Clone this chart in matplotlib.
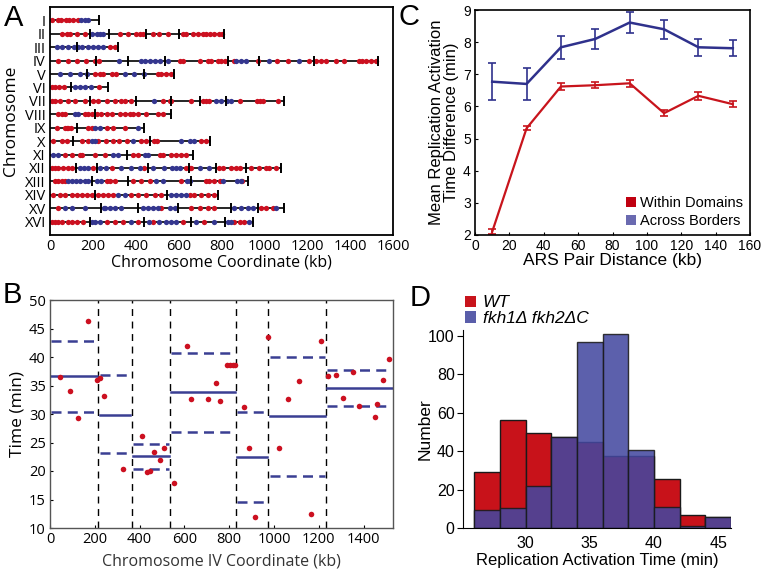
import matplotlib
matplotlib.use("Agg")
import matplotlib.pyplot as plt
from matplotlib.patches import Patch

# ---- panel A: origins along each chromosome (kb) ----
chr_names = ['I', 'II', 'III', 'IV', 'V', 'VI', 'VII', 'VIII', 'IX', 'X',
             'XI', 'XII', 'XIII', 'XIV', 'XV', 'XVI']
chr_len = [230, 813, 317, 1532, 577, 270, 1091, 563, 440, 746, 667, 1078, 924, 784, 1091, 948]

a_red = [
    [8, 36, 51, 73, 88, 109, 129],
    [54, 78, 93, 127, 163, 326, 364, 403, 419, 434, 481, 509, 550, 620, 633, 667, 690, 713, 729, 747, 767, 787, 803],
    [279, 302],
    [39, 85, 124, 167, 209, 229, 605, 620, 698, 736, 752, 783, 798, 814, 860, 969, 1057, 1109, 1209, 1240,
     1264, 1287, 1333, 1372, 1442, 1457, 1473, 1496, 1519],
    [209, 233, 248, 287, 310, 504, 519, 543, 566],
    [8, 25, 42, 67, 230],
    [8, 23, 47, 85, 116, 163, 202, 225, 264, 302, 333, 349, 380, 527, 558, 566, 659, 713, 729, 744, 884,
     965, 980, 995, 1062],
    [39, 54, 70, 163, 178, 194, 217, 240, 264, 287, 326, 349, 372, 388, 411, 450, 504, 527],
    [31, 70, 78, 85, 98, 178, 194, 264, 295, 349],
    [16, 54, 78, 147, 178, 225, 260, 295, 322, 357, 426, 450, 484, 499, 705, 729],
    [70, 101, 140, 147, 209, 256, 388, 411, 512, 527, 566, 589, 612, 636],
    [8, 23, 39, 62, 85, 101, 200, 290, 440, 636, 651, 659, 787, 806, 845, 868, 884, 937, 977, 1008, 1023, 1054],
    [23, 39, 54, 70, 264, 279, 302, 388, 426, 465, 612, 729, 744, 767, 791, 896],
    [16, 47, 70, 101, 124, 147, 171, 194, 225, 248, 271, 295, 380, 411, 450, 490, 520, 651, 674, 705, 736, 767],
    [39, 519, 659, 698, 736, 767, 984, 1008, 1039],
    [8, 23, 39, 54, 85, 101, 124, 156, 264, 302, 341, 411, 481, 620, 717, 860, 884, 907],
]
a_blue = [
    [144, 163, 175],
    [198, 217, 233, 248],
    [31, 57, 82, 113, 129, 150, 178, 202, 225, 248],
    [322, 426, 442, 465, 488, 512, 550, 868, 891, 915, 1020, 1163],
    [47, 93, 140, 171, 349, 392, 437],
    [116, 140, 165, 190],
    [484, 775, 798, 825, 845],
    [116, 129],
    [209, 233, 411],
    [194, 209, 388, 612, 651, 674],
    [16, 39, 295, 318, 442, 457],
    [140, 160, 178, 233, 260, 330, 380, 420, 480, 530, 570, 589, 605, 700, 744],
    [85, 101, 121, 140, 163, 178, 217, 240, 496, 527, 640, 651, 809, 870, 891],
    [318, 349, 566, 589, 612, 636],
    [70, 101, 163, 250, 256, 279, 302, 333, 434, 457, 481, 504, 558, 581, 860, 891, 922, 946, 1054],
    [194, 209, 233, 380, 460, 510, 543, 566, 589, 682, 767, 829, 845, 930],
]
a_borders = [
    [], [186, 276, 450, 600], [127], [215, 365, 535, 830, 975, 1232], [171, 437], [98],
    [186, 403, 566, 698, 819], [209], [127], [105, 468], [357], [121, 217, 457, 648, 775, 915],
    [194, 364, 659], [209, 548], [240, 411, 597, 845, 969], [186, 440, 659, 814],
]

# ---- panel B: chromosome IV activation times ----
b_x = [44, 89, 126, 168, 211, 223, 242, 326, 411, 435, 445, 463, 490, 507, 553, 611, 631, 705, 739, 757,
       791, 804, 816, 826, 865, 887, 917, 972, 1024, 1061, 1110, 1165, 1209, 1243, 1276, 1309, 1353, 1380,
       1450, 1461, 1488, 1515]
b_y = [36.5, 34.1, 29.3, 46.4, 35.9, 36.4, 33.1, 20.4, 26.2, 19.8, 20.0, 23.3, 22.0, 24.0, 17.9, 41.9,
       32.7, 32.7, 35.4, 32.2, 38.6, 38.6, 38.6, 38.6, 31.2, 24.1, 11.9, 43.5, 24.1, 32.6, 35.8, 12.5,
       42.8, 36.6, 36.8, 32.8, 37.4, 31.4, 29.4, 31.8, 36.0, 39.7]
b_borders = [0, 215, 365, 535, 830, 975, 1232, 1531]
b_mean = [36.6, 29.9, 22.6, 33.8, 22.4, 29.6, 34.6]
b_hi = [42.8, 36.9, 24.8, 40.7, 30.4, 40.0, 37.8]
b_lo = [30.3, 23.1, 20.3, 26.9, 14.5, 19.2, 31.4]

# ---- panel C ----
c_dist = [10, 30, 50, 70, 90, 110, 130, 150]
c_within = [2.10, 5.32, 6.62, 6.66, 6.72, 5.79, 6.33, 6.07]
c_within_err = [0.08, 0.06, 0.10, 0.10, 0.10, 0.10, 0.12, 0.10]
c_across = [6.77, 6.70, 7.84, 8.10, 8.61, 8.40, 7.84, 7.81]
c_across_err = [0.57, 0.49, 0.36, 0.32, 0.32, 0.30, 0.27, 0.25]

# ---- panel D ----
d_edges = [26, 28, 30, 32, 34, 36, 38, 40, 42, 44, 46]
d_wt = [28.9, 56.3, 49.4, 47.3, 44.5, 37.6, 37.6, 25.6, 6.9, 5.7]
d_mut = [9.2, 10.2, 22.0, 47.3, 97, 101, 40.4, 11.1, 1.2, 5.7]

RED = '#cc1020'
NAVY = '#34368f'
W, H = 762, 572
ab_font = 'Open Sans'
cd_font = 'Liberation Sans'

fig = plt.figure(figsize=(W / 100, H / 100), dpi=100)


def box(l, t, r, b):
    return [l / W, 1 - b / H, (r - l) / W, (b - t) / H]


# ================= A =================
axA = fig.add_axes(box(50, 7, 393, 235))
for i in range(len(chr_names)):
    row = i + 1
    axA.plot([0, chr_len[i]], [row, row], color='black', lw=1.2, zorder=1)
    axA.plot(a_red[i], [row] * len(a_red[i]), 'o', color=RED, ms=3.8, mew=0, zorder=2)
    axA.plot(a_blue[i], [row] * len(a_blue[i]), 'o', color=NAVY, ms=3.8, mew=0, zorder=2)
    ends = a_borders[i] + [chr_len[i]]
    axA.plot(ends, [row] * len(ends), '|', color='black', ms=7, mew=1.4, zorder=3)
axA.set_xlim(0, 1600)
axA.set_ylim(17, 0)
axA.set_xticks(range(0, 1601, 200))
axA.set_yticks(range(1, 17))
axA.set_yticklabels(chr_names)
axA.tick_params(length=0, labelsize=10.5, pad=3)
for lab in axA.get_xticklabels() + axA.get_yticklabels():
    lab.set_family(ab_font)
axA.set_xlabel('Chromosome Coordinate (kb)', family=ab_font, fontsize=11.5)
axA.set_ylabel('Chromosome', family=ab_font, fontsize=12.5)
axA.xaxis.set_label_coords(0.5, -0.085)
axA.yaxis.set_label_coords(-0.09, 0.5)
for s in axA.spines.values():
    s.set_linewidth(1.3)

# ================= B =================
axB = fig.add_axes(box(50, 300, 393, 528))
for xb in b_borders[1:-1]:
    axB.axvline(xb, color='black', lw=1, ls=(0, (5, 4)), zorder=1)
for k in range(len(b_mean)):
    x0 = b_borders[k] + 6
    x1 = b_borders[k + 1] - 6
    axB.plot([x0, x1], [b_mean[k]] * 2, color='#3a3f93', lw=1.8, zorder=2)
    axB.plot([x0, x1], [b_hi[k]] * 2, color='#3a3f93', lw=1.8, ls=(0, (4, 2.5)), zorder=2)
    axB.plot([x0, x1], [b_lo[k]] * 2, color='#3a3f93', lw=1.8, ls=(0, (4, 2.5)), zorder=2)
axB.plot(b_x, b_y, 'o', color=RED, ms=4, mew=0, zorder=3)
axB.set_xlim(0, 1531)
axB.set_ylim(10, 50)
axB.set_xticks(range(0, 1401, 200))
axB.set_yticks(range(10, 51, 5))
axB.tick_params(direction='in', length=2, labelsize=10.5, pad=3)
for lab in axB.get_xticklabels() + axB.get_yticklabels():
    lab.set_family(ab_font)
axB.set_xlabel('Chromosome IV Coordinate (kb)', family=ab_font, fontsize=11.5, color='#333333')
axB.set_ylabel('Time (min)', family=ab_font, fontsize=12.5)
axB.xaxis.set_label_coords(0.5, -0.11)
axB.yaxis.set_label_coords(-0.07, 0.5)
for s in axB.spines.values():
    s.set_color('#555555')
    s.set_linewidth(1)

# ================= C =================
axC = fig.add_axes(box(475, 10, 750, 235))
axC.errorbar(c_dist, c_across, yerr=c_across_err, color='#2f318c', lw=1.8, elinewidth=1.2,
             capsize=3, capthick=1.2)
axC.errorbar(c_dist, c_within, yerr=c_within_err, color='#c8141c', lw=1.6, elinewidth=1.2,
             capsize=3, capthick=1.2)
axC.set_xlim(0, 160)
axC.set_ylim(2, 9)
axC.set_xticks(range(0, 161, 20))
axC.set_yticks(range(2, 10))
axC.tick_params(direction='in', length=2, labelsize=10, pad=3)
for lab in axC.get_xticklabels() + axC.get_yticklabels():
    lab.set_family(cd_font)
axC.set_xlabel('ARS Pair Distance (kb)', family=cd_font, fontsize=12.5)
axC.set_ylabel('Mean Replication Activation\nTime Difference (min)', family=cd_font, fontsize=12,
               linespacing=1.0)
axC.xaxis.set_label_coords(0.5, -0.08)
axC.yaxis.set_label_coords(-0.06, 0.5)
for s in axC.spines.values():
    s.set_linewidth(1.2)
c_handles = [Patch(facecolor='#c00010', edgecolor='none', label='Within Domains'),
             Patch(facecolor='#6a6ab0', edgecolor='none', label='Across Borders')]
axC.legend(handles=c_handles, loc='lower right', frameon=False, handlelength=0.7, handleheight=0.7,
           handletextpad=0.3, labelspacing=0.3, borderaxespad=0.05,
           prop={'family': cd_font, 'size': 10.5})

# ================= D =================
axD = fig.add_axes(box(463, 330, 731, 528))
widths = [d_edges[k + 1] - d_edges[k] for k in range(len(d_wt))]
axD.bar(d_edges[:-1], d_wt, width=widths, align='edge', color='#c8121a', edgecolor='#1a1a1a', lw=1)
axD.bar(d_edges[:-1], d_mut, width=widths, align='edge', color='#4448a0', alpha=0.87,
        edgecolor='#1a1a1a', lw=1)
axD.set_xlim(25.12, 46.0)
axD.set_ylim(0, 103)
axD.set_xticks([30, 35, 40, 45])
axD.set_yticks(range(0, 101, 20))
axD.spines['top'].set_visible(False)
axD.spines['right'].set_visible(False)
axD.spines['left'].set_bounds(0, 103)
axD.tick_params(axis='y', direction='out', length=4, labelsize=11.5, pad=2)
axD.tick_params(axis='x', length=0, labelsize=11.5, pad=6)
for lab in axD.get_xticklabels() + axD.get_yticklabels():
    lab.set_family(cd_font)
axD.set_xlabel('Replication Activation Time (min)', family=cd_font, fontsize=12)
axD.set_ylabel('Number', family=cd_font, fontsize=12.5)
axD.xaxis.set_label_coords(0.5, -0.125)
axD.yaxis.set_label_coords(-0.115, 0.5)
d_handles = [Patch(facecolor='#c8141c', edgecolor='none', label='WT'),
             Patch(facecolor='#5a5eaa', edgecolor='none', label='fkh1Δ fkh2ΔC')]
axD.legend(handles=d_handles, loc='lower left', bbox_to_anchor=(0.0, 1.01), frameon=False,
           handlelength=0.65, handleheight=0.65, handletextpad=0.4, labelspacing=0.05,
           borderaxespad=0, borderpad=0.1,
           prop={'family': cd_font, 'size': 12.5, 'style': 'italic'})

# panel letters
for letter, x, y in [('A', 4, 4), ('B', 3, 281), ('C', 398, 3), ('D', 410, 284)]:
    fig.text(x / W, 1 - y / H, letter, family=cd_font, fontsize=21, va='top', ha='left')

fig.savefig('out.png', dpi=100)
